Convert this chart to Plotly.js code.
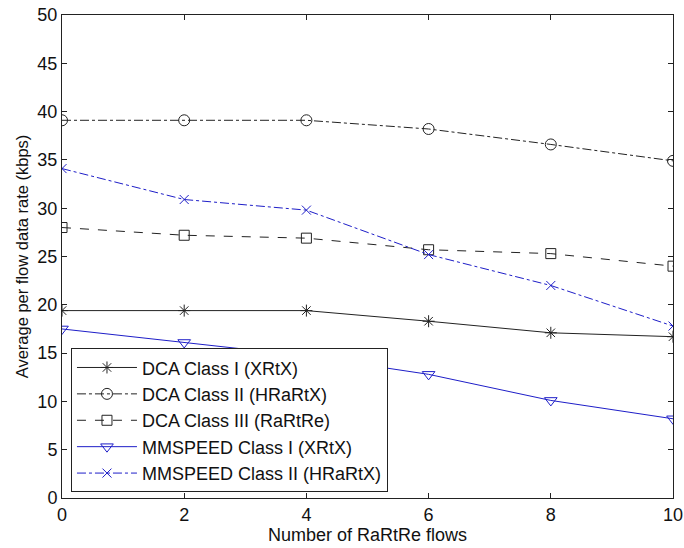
<!DOCTYPE html>
<html>
<head>
<meta charset="utf-8">
<script src="https://cdn.plot.ly/plotly-3.0.1.min.js"></script>
<style>html,body{margin:0;padding:0;background:#fff;}#chart{width:684px;height:548px;}</style>
</head>
<body>
<div id="chart"></div>
<script>
const flows = [0, 2, 4, 6, 8, 10];
const dcaClassI = [19.4, 19.4, 19.4, 18.3, 17.1, 16.7];
const dcaClassII = [39.1, 39.1, 39.1, 38.2, 36.6, 34.9];
const dcaClassIII = [28.0, 27.2, 26.9, 25.7, 25.3, 24.0];
const mmspeedClassI = [17.5, 16.1, 14.7, 12.8, 10.1, 8.2];
const mmspeedClassII = [34.1, 30.9, 29.8, 25.2, 22.0, 17.8];
const seriesNames = ['DCA Class I (XRtX)', 'DCA Class II (HRaRtX)', 'DCA Class III (RaRtRe)', 'MMSPEED Class I (XRtX)', 'MMSPEED Class II (HRaRtX)'];
const xTicks = [0, 2, 4, 6, 8, 10];
const yTicks = [0, 5, 10, 15, 20, 25, 30, 35, 40, 45, 50];

const black = '#222';
const blue = 'rgb(30,30,200)';
function tr(y, name, color, dash, symbol, msize) {
  return {
    x: flows, y: y, name: name, type: 'scatter', mode: 'lines+markers',
    line: {color: color, width: 1, dash: dash},
    marker: {symbol: symbol, size: msize, color: color, line: {color: color, width: 1}}
  };
}
const data = [
  tr(dcaClassI, seriesNames[0], black, 'solid', 'asterisk-open', 10),
  tr(dcaClassII, seriesNames[1], black, 'dashdot', 'circle-open', 11),
  tr(dcaClassIII, seriesNames[2], black, 'dash', 'square-open', 10),
  tr(mmspeedClassI, seriesNames[3], blue, 'solid', 'triangle-down-open', 11),
  tr(mmspeedClassII, seriesNames[4], blue, 'dashdot', 'x-thin-open', 9)
];
const axisCommon = {
  showgrid: false, zeroline: false, showline: true, mirror: 'ticks',
  linecolor: black, linewidth: 1, ticks: 'inside', ticklen: 5, tickcolor: black,
  tickfont: {family: 'Liberation Sans, Arial, sans-serif', size: 18, color: '#111'}
};
const layout = {
  width: 684, height: 548,
  margin: {l: 62, r: 11, t: 15, b: 50},
  paper_bgcolor: '#fff', plot_bgcolor: '#fff',
  font: {family: 'Liberation Sans, Arial, sans-serif', size: 18, color: '#111'},
  xaxis: Object.assign({}, axisCommon, {
    range: [0, 10], tickvals: xTicks, automargin: false,
    title: {text: 'Number of RaRtRe flows', standoff: 0, font: {size: 18}}
  }),
  yaxis: Object.assign({}, axisCommon, {
    range: [0, 50], tickvals: yTicks, automargin: false,
    title: {text: 'Average per flow data rate (kbps)', standoff: 4, font: {size: 16.5}}
  }),
  showlegend: true,
  legend: {
    x: 0.0147, y: 0.31, xanchor: 'left', yanchor: 'top',
    bordercolor: black, borderwidth: 1, bgcolor: '#fff',
    font: {size: 18, color: '#111'}, tracegroupgap: 0, itemwidth: 60
  }
};
Plotly.newPlot('chart', data, layout, {displayModeBar: false, staticPlot: true});
</script>
</body>
</html>
